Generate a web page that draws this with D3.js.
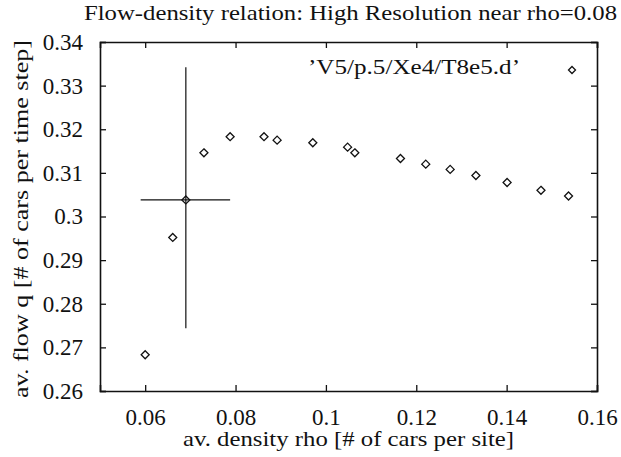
<!DOCTYPE html>
<html>
<head>
<meta charset="utf-8">
<script src="https://cdn.jsdelivr.net/npm/d3@7"></script>
<style>
body { margin: 0; background: #fff; }
text { font-family: "Liberation Serif", "DejaVu Serif", serif; fill: #111; }
</style>
</head>
<body>
<svg id="chart" width="621" height="457"></svg>
<script>
// data
var rho  = [0.0600, 0.0661, 0.0730, 0.0788, 0.0863, 0.0892, 0.0971, 0.1048, 0.1064, 0.1165, 0.1221, 0.1275, 0.1332, 0.1401, 0.1476, 0.1537];
var flow = [0.2683, 0.2952, 0.3146, 0.3183, 0.3183, 0.3175, 0.3169, 0.3159, 0.3146, 0.3133, 0.3120, 0.3108, 0.3094, 0.3078, 0.3060, 0.3047];
// the one point with error bars
var errPoint = {x: 0.0690, y: 0.3038, xlo: 0.0590, xhi: 0.0788, ylo: 0.2744, yhi: 0.3342};
var xTicks = [0.06, 0.08, 0.1, 0.12, 0.14, 0.16];
var yTicks = [0.26, 0.27, 0.28, 0.29, 0.3, 0.31, 0.32, 0.33, 0.34];
var legendLabel = "\u2019V5/p.5/Xe4/T8e5.d\u2019";

var svg = d3.select("#chart");
var mLeft = 100, mRight = 597, mTop = 42, mBottom = 391;

var x = d3.scaleLinear().domain([0.05, 0.16]).range([mLeft, mRight]);
var y = d3.scaleLinear().domain([0.26, 0.34]).range([mBottom, mTop]);

//text helper, stretched to the width seen in the scan
function label(px, py, str, len) {
	return svg.append("text").attr("x", px).attr("y", py)
		.style("font-size", "22px")
		.attr("textLength", len).attr("lengthAdjust", "spacingAndGlyphs")
		.text(str);
}

//title
label(84, 20, "Flow-density relation: High Resolution near rho=0.08", 533);

//frame with ticks inside on every side
var fmt = function(d){ return String(+d.toFixed(2)); };
svg.append("g").attr("transform", "translate(0," + mBottom + ")")
	.call(d3.axisBottom(x).tickValues(xTicks).tickSize(-6).tickPadding(18).tickFormat(fmt));
svg.append("g").attr("transform", "translate(0," + mTop + ")")
	.call(d3.axisTop(x).tickValues(xTicks).tickSize(-6).tickFormat(""));
svg.append("g").attr("transform", "translate(" + mLeft + ",0)")
	.call(d3.axisLeft(y).tickValues(yTicks).tickSize(-6).tickPadding(17).tickFormat(fmt));
svg.append("g").attr("transform", "translate(" + mRight + ",0)")
	.call(d3.axisRight(y).tickValues(yTicks).tickSize(-6).tickFormat(""));
svg.selectAll(".domain").attr("stroke", "#111").attr("stroke-width", 1.6);
svg.selectAll(".tick line").attr("stroke", "#111").attr("stroke-width", 1.3);
svg.selectAll(".tick text").style("font-size", "23px").attr("fill", "#111")
	.style("font-family", "'Liberation Serif', serif");

//axis titles
label(183, 446, "av. density rho [# of cars per site]", 331);
label(0, 0, "av. flow q [# of cars per time step]", 358)
	.attr("transform", "translate(28,398) rotate(-90)");

//diamond marker
function diamond(g, cx, cy, r) {
	g.append("path")
		.attr("d", "M" + cx + "," + (cy - r) + "L" + (cx + r) + "," + cy + "L" + cx + "," + (cy + r) + "L" + (cx - r) + "," + cy + "Z")
		.attr("fill", "none").attr("stroke", "#111").attr("stroke-width", 1.3);
}

var pts = svg.append("g");
for (var i = 0; i < rho.length; ++i) {
	diamond(pts, x(rho[i]), y(flow[i]), 4);
}

//error bar cross
var eb = svg.append("g").attr("stroke", "#111").attr("stroke-width", 1.2);
eb.append("line").attr("x1", x(errPoint.xlo)).attr("x2", x(errPoint.xhi))
	.attr("y1", y(errPoint.y)).attr("y2", y(errPoint.y));
eb.append("line").attr("x1", x(errPoint.x)).attr("x2", x(errPoint.x))
	.attr("y1", y(errPoint.ylo)).attr("y2", y(errPoint.yhi));
diamond(svg, x(errPoint.x), y(errPoint.y), 4);

//legend
label(308, 74, legendLabel, 212);
diamond(svg, 572, 70, 3.5);
</script>
</body>
</html>
